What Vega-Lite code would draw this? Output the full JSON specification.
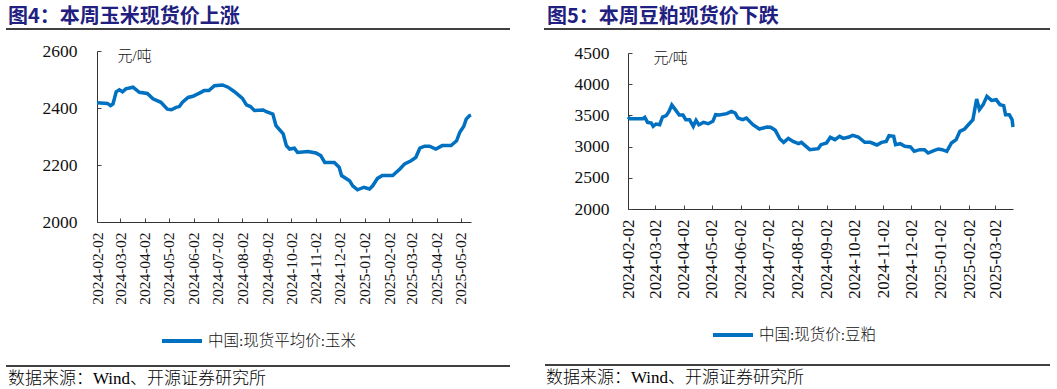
{
  "$schema": "https://vega.github.io/schema/vega-lite/v6.json",
  "padding": {"left": 5, "top": 7, "right": 0, "bottom": 0},
  "background": "white",
  "config": {
    "view": {"stroke": null},
    "font": "Liberation Serif",
    "axis": {
      "grid": false,
      "domainColor": "#333333",
      "domainWidth": 1,
      "tickColor": "#444444",
      "tickSize": -4,
      "labelFont": "Liberation Serif",
      "labelColor": "#111111",
      "titleFont": "Liberation Serif, Noto Sans CJK SC",
      "titleFontWeight": 300,
      "titleColor": "#111111"
    },
    "legend": {
      "padding": 0,
      "symbolType": "stroke",
      "symbolSize": 1600,
      "symbolStrokeWidth": 4,
      "labelFont": "Liberation Serif, Noto Sans CJK SC",
      "labelFontWeight": 300,
      "labelFontSize": 15.5,
      "labelColor": "#111111",
      "labelOffset": 4
    }
  },
  "datasets": {
    "corn": [
      {"date": "2024-02-02", "price": 2418},
      {"date": "2024-02-15", "price": 2416},
      {"date": "2024-02-19", "price": 2408},
      {"date": "2024-02-22", "price": 2414},
      {"date": "2024-02-26", "price": 2457},
      {"date": "2024-03-01", "price": 2464},
      {"date": "2024-03-05", "price": 2457},
      {"date": "2024-03-09", "price": 2467},
      {"date": "2024-03-18", "price": 2473},
      {"date": "2024-03-26", "price": 2455},
      {"date": "2024-04-05", "price": 2451},
      {"date": "2024-04-12", "price": 2432},
      {"date": "2024-04-22", "price": 2420},
      {"date": "2024-04-30", "price": 2396},
      {"date": "2024-05-05", "price": 2394},
      {"date": "2024-05-11", "price": 2402},
      {"date": "2024-05-15", "price": 2405},
      {"date": "2024-05-19", "price": 2420},
      {"date": "2024-05-26", "price": 2437},
      {"date": "2024-06-01", "price": 2441},
      {"date": "2024-06-11", "price": 2455},
      {"date": "2024-06-15", "price": 2461},
      {"date": "2024-06-21", "price": 2461},
      {"date": "2024-06-28", "price": 2478},
      {"date": "2024-07-08", "price": 2481},
      {"date": "2024-07-15", "price": 2473},
      {"date": "2024-07-23", "price": 2457},
      {"date": "2024-08-02", "price": 2434},
      {"date": "2024-08-07", "price": 2411},
      {"date": "2024-08-12", "price": 2405},
      {"date": "2024-08-17", "price": 2391},
      {"date": "2024-08-28", "price": 2393},
      {"date": "2024-09-01", "price": 2387},
      {"date": "2024-09-09", "price": 2379},
      {"date": "2024-09-13", "price": 2338},
      {"date": "2024-09-22", "price": 2309},
      {"date": "2024-09-26", "price": 2268},
      {"date": "2024-09-30", "price": 2256},
      {"date": "2024-10-06", "price": 2259},
      {"date": "2024-10-10", "price": 2244},
      {"date": "2024-10-23", "price": 2247},
      {"date": "2024-11-02", "price": 2242},
      {"date": "2024-11-08", "price": 2233},
      {"date": "2024-11-13", "price": 2209},
      {"date": "2024-11-25", "price": 2209},
      {"date": "2024-12-01", "price": 2192},
      {"date": "2024-12-04", "price": 2163},
      {"date": "2024-12-14", "price": 2145},
      {"date": "2024-12-18", "price": 2127},
      {"date": "2024-12-24", "price": 2113},
      {"date": "2025-01-01", "price": 2122},
      {"date": "2025-01-08", "price": 2116},
      {"date": "2025-01-12", "price": 2127},
      {"date": "2025-01-18", "price": 2153},
      {"date": "2025-01-24", "price": 2163},
      {"date": "2025-02-06", "price": 2163},
      {"date": "2025-02-15", "price": 2186},
      {"date": "2025-02-21", "price": 2204},
      {"date": "2025-03-01", "price": 2215},
      {"date": "2025-03-07", "price": 2227},
      {"date": "2025-03-12", "price": 2259},
      {"date": "2025-03-18", "price": 2266},
      {"date": "2025-03-24", "price": 2266},
      {"date": "2025-04-01", "price": 2256},
      {"date": "2025-04-09", "price": 2268},
      {"date": "2025-04-20", "price": 2268},
      {"date": "2025-04-27", "price": 2285},
      {"date": "2025-05-01", "price": 2315},
      {"date": "2025-05-06", "price": 2336},
      {"date": "2025-05-09", "price": 2361},
      {"date": "2025-05-13", "price": 2373},
      {"date": "2025-05-15", "price": 2375}
    ],
    "soy": [
      {"date": "2024-02-02", "price": 3474},
      {"date": "2024-02-04", "price": 3448},
      {"date": "2024-02-18", "price": 3448},
      {"date": "2024-02-20", "price": 3469},
      {"date": "2024-02-23", "price": 3389},
      {"date": "2024-02-27", "price": 3378},
      {"date": "2024-02-29", "price": 3325},
      {"date": "2024-03-03", "price": 3362},
      {"date": "2024-03-07", "price": 3351},
      {"date": "2024-03-10", "price": 3474},
      {"date": "2024-03-14", "price": 3496},
      {"date": "2024-03-17", "price": 3565},
      {"date": "2024-03-20", "price": 3667},
      {"date": "2024-03-23", "price": 3608},
      {"date": "2024-03-28", "price": 3506},
      {"date": "2024-04-01", "price": 3506},
      {"date": "2024-04-04", "price": 3432},
      {"date": "2024-04-08", "price": 3432},
      {"date": "2024-04-12", "price": 3325},
      {"date": "2024-04-15", "price": 3421},
      {"date": "2024-04-18", "price": 3351},
      {"date": "2024-04-23", "price": 3389},
      {"date": "2024-04-28", "price": 3367},
      {"date": "2024-05-03", "price": 3405},
      {"date": "2024-05-06", "price": 3512},
      {"date": "2024-05-10", "price": 3506},
      {"date": "2024-05-18", "price": 3528},
      {"date": "2024-05-23", "price": 3565},
      {"date": "2024-05-27", "price": 3538},
      {"date": "2024-05-30", "price": 3458},
      {"date": "2024-06-04", "price": 3432},
      {"date": "2024-06-08", "price": 3458},
      {"date": "2024-06-15", "price": 3351},
      {"date": "2024-06-22", "price": 3282},
      {"date": "2024-06-30", "price": 3314},
      {"date": "2024-07-04", "price": 3309},
      {"date": "2024-07-09", "price": 3261},
      {"date": "2024-07-14", "price": 3122},
      {"date": "2024-07-18", "price": 3068},
      {"date": "2024-07-23", "price": 3132},
      {"date": "2024-07-28", "price": 3084},
      {"date": "2024-08-03", "price": 3047},
      {"date": "2024-08-06", "price": 3068},
      {"date": "2024-08-11", "price": 3004},
      {"date": "2024-08-15", "price": 2951},
      {"date": "2024-08-24", "price": 2967},
      {"date": "2024-08-27", "price": 3031},
      {"date": "2024-09-02", "price": 3058},
      {"date": "2024-09-06", "price": 3148},
      {"date": "2024-09-11", "price": 3111},
      {"date": "2024-09-16", "price": 3164},
      {"date": "2024-09-20", "price": 3132},
      {"date": "2024-09-26", "price": 3154},
      {"date": "2024-09-30", "price": 3180},
      {"date": "2024-10-06", "price": 3154},
      {"date": "2024-10-13", "price": 3068},
      {"date": "2024-10-19", "price": 3068},
      {"date": "2024-10-26", "price": 3026},
      {"date": "2024-10-31", "price": 3068},
      {"date": "2024-11-05", "price": 3084},
      {"date": "2024-11-08", "price": 3175},
      {"date": "2024-11-13", "price": 3164},
      {"date": "2024-11-15", "price": 3031},
      {"date": "2024-11-20", "price": 3047},
      {"date": "2024-11-25", "price": 3004},
      {"date": "2024-12-01", "price": 2994},
      {"date": "2024-12-05", "price": 2924},
      {"date": "2024-12-11", "price": 2951},
      {"date": "2024-12-16", "price": 2951},
      {"date": "2024-12-20", "price": 2897},
      {"date": "2024-12-26", "price": 2935},
      {"date": "2024-12-31", "price": 2962},
      {"date": "2025-01-04", "price": 2951},
      {"date": "2025-01-09", "price": 2924},
      {"date": "2025-01-14", "price": 3058},
      {"date": "2025-01-19", "price": 3111},
      {"date": "2025-01-23", "price": 3245},
      {"date": "2025-01-28", "price": 3282},
      {"date": "2025-02-06", "price": 3432},
      {"date": "2025-02-10", "price": 3763},
      {"date": "2025-02-13", "price": 3592},
      {"date": "2025-02-17", "price": 3672},
      {"date": "2025-02-21", "price": 3806},
      {"date": "2025-02-26", "price": 3741},
      {"date": "2025-03-03", "price": 3752},
      {"date": "2025-03-07", "price": 3672},
      {"date": "2025-03-11", "price": 3656},
      {"date": "2025-03-13", "price": 3512},
      {"date": "2025-03-17", "price": 3512},
      {"date": "2025-03-20", "price": 3432},
      {"date": "2025-03-21", "price": 3314}
    ]
  },
  "hconcat": [
    {
      "vconcat": [
        {
          "width": 413,
          "height": 3,
          "data": {"values": [{}]},
          "title": {"text": "图4：本周玉米现货价上涨", "anchor": "start", "frame": "group", "font": "Noto Sans CJK SC", "fontSize": 20, "fontWeight": "bold", "color": "#1F2080", "offset": 1, "dx": -89},
          "mark": {"type": "rule", "color": "black", "strokeWidth": 1.5},
          "encoding": {
            "x": {"datum": -0.2203, "type": "quantitative", "scale": {"domain": [0, 1]}, "axis": null},
            "x2": {"datum": 1},
            "y": {"datum": 1, "type": "quantitative", "scale": {"domain": [0, 1]}, "axis": null}
          }
        },
        {
          "width": 374,
          "height": 171,
          "data": {"name": "corn"},
          "mark": {"type": "line", "strokeWidth": 3.5},
          "encoding": {
            "x": {
              "field": "date", "type": "temporal",
              "scale": {"type": "utc", "nice": false},
              "axis": {
                "title": null, "format": "%Y-%m-%d", "labelAngle": 270, "labelFontSize": 15.5, "labelPadding": 14,
                "values": [
                  {"year": 2024, "month": 2, "date": 2, "utc": true},
                  {"year": 2024, "month": 3, "date": 2, "utc": true},
                  {"year": 2024, "month": 4, "date": 2, "utc": true},
                  {"year": 2024, "month": 5, "date": 2, "utc": true},
                  {"year": 2024, "month": 6, "date": 2, "utc": true},
                  {"year": 2024, "month": 7, "date": 2, "utc": true},
                  {"year": 2024, "month": 8, "date": 2, "utc": true},
                  {"year": 2024, "month": 9, "date": 2, "utc": true},
                  {"year": 2024, "month": 10, "date": 2, "utc": true},
                  {"year": 2024, "month": 11, "date": 2, "utc": true},
                  {"year": 2024, "month": 12, "date": 2, "utc": true},
                  {"year": 2025, "month": 1, "date": 2, "utc": true},
                  {"year": 2025, "month": 2, "date": 2, "utc": true},
                  {"year": 2025, "month": 3, "date": 2, "utc": true},
                  {"year": 2025, "month": 4, "date": 2, "utc": true},
                  {"year": 2025, "month": 5, "date": 2, "utc": true}
                ]
              }
            },
            "y": {
              "field": "price", "type": "quantitative",
              "scale": {"domain": [2000, 2600], "nice": false, "zero": false},
              "axis": {"values": [2000, 2200, 2400, 2600], "format": "d", "labelFontSize": 17.5, "labelPadding": 24, "title": "元/吨", "titleAngle": 0, "titleX": 20, "titleY": 4, "titleAlign": "left", "titleBaseline": "middle", "titleFontSize": 15}
            },
            "color": {
              "datum": "中国:现货平均价:玉米", "type": "nominal",
              "scale": {"range": ["#0070C0"]},
              "legend": {"orient": "none", "legendX": 63, "legendY": 290, "title": null}
            }
          }
        },
        {
          "width": 413,
          "height": 51,
          "data": {"values": [{}]},
          "title": {"text": "数据来源：Wind、开源证券研究所", "orient": "bottom", "anchor": "start", "frame": "group", "font": "Liberation Serif, Noto Sans CJK SC", "fontSize": 17, "fontWeight": 300, "color": "black", "offset": 4, "dx": -89},
          "mark": {"type": "rule", "color": "black", "strokeWidth": 1.5},
          "encoding": {
            "x": {"datum": -0.2203, "type": "quantitative", "scale": {"domain": [0, 1]}, "axis": null},
            "x2": {"datum": 1},
            "y": {"datum": 0, "type": "quantitative", "scale": {"domain": [0, 1]}, "axis": null}
          }
        }
      ],
      "spacing": 10
    },
    {
      "vconcat": [
        {
          "width": 422,
          "height": 5,
          "data": {"values": [{}]},
          "title": {"text": "图5：本周豆粕现货价下跌", "anchor": "start", "frame": "group", "font": "Noto Sans CJK SC", "fontSize": 20, "fontWeight": "bold", "color": "#1F2080", "offset": 1, "dx": -81},
          "mark": {"type": "rule", "color": "black", "strokeWidth": 1.5},
          "encoding": {
            "x": {"datum": -0.1991, "type": "quantitative", "scale": {"domain": [0, 1]}, "axis": null},
            "x2": {"datum": 1},
            "y": {"datum": 1, "type": "quantitative", "scale": {"domain": [0, 1]}, "axis": null}
          }
        },
        {
          "width": 385,
          "height": 156,
          "data": {"name": "soy"},
          "mark": {"type": "line", "strokeWidth": 3.5},
          "encoding": {
            "x": {
              "field": "date", "type": "temporal",
              "scale": {"type": "utc", "nice": false},
              "axis": {
                "title": null, "format": "%Y-%m-%d", "labelAngle": 270, "labelFontSize": 17, "labelPadding": 14,
                "values": [
                  {"year": 2024, "month": 2, "date": 2, "utc": true},
                  {"year": 2024, "month": 3, "date": 2, "utc": true},
                  {"year": 2024, "month": 4, "date": 2, "utc": true},
                  {"year": 2024, "month": 5, "date": 2, "utc": true},
                  {"year": 2024, "month": 6, "date": 2, "utc": true},
                  {"year": 2024, "month": 7, "date": 2, "utc": true},
                  {"year": 2024, "month": 8, "date": 2, "utc": true},
                  {"year": 2024, "month": 9, "date": 2, "utc": true},
                  {"year": 2024, "month": 10, "date": 2, "utc": true},
                  {"year": 2024, "month": 11, "date": 2, "utc": true},
                  {"year": 2024, "month": 12, "date": 2, "utc": true},
                  {"year": 2025, "month": 1, "date": 2, "utc": true},
                  {"year": 2025, "month": 2, "date": 2, "utc": true},
                  {"year": 2025, "month": 3, "date": 2, "utc": true}
                ]
              }
            },
            "y": {
              "field": "price", "type": "quantitative",
              "scale": {"domain": [2000, 4500], "nice": false, "zero": false},
              "axis": {"values": [2000, 2500, 3000, 3500, 4000, 4500], "format": "d", "labelFontSize": 17.5, "labelPadding": 23, "title": "元/吨", "titleAngle": 0, "titleX": 25, "titleY": 4, "titleAlign": "left", "titleBaseline": "middle", "titleFontSize": 15}
            },
            "color": {
              "datum": "中国:现货价:豆粕", "type": "nominal",
              "scale": {"range": ["#0070C0"]},
              "legend": {"orient": "none", "legendX": 83, "legendY": 284, "title": null}
            }
          }
        },
        {
          "width": 422,
          "height": 56,
          "data": {"values": [{}]},
          "title": {"text": "数据来源：Wind、开源证券研究所", "orient": "bottom", "anchor": "start", "frame": "group", "font": "Liberation Serif, Noto Sans CJK SC", "fontSize": 17, "fontWeight": 300, "color": "black", "offset": 4, "dx": -82},
          "mark": {"type": "rule", "color": "black", "strokeWidth": 1.5},
          "encoding": {
            "x": {"datum": -0.1967, "type": "quantitative", "scale": {"domain": [0, 1]}, "axis": null},
            "x2": {"datum": 1},
            "y": {"datum": 0, "type": "quantitative", "scale": {"domain": [0, 1]}, "axis": null}
          }
        }
      ],
      "spacing": 10
    }
  ],
  "spacing": 32,
  "resolve": {"scale": {"color": "independent"}}
}
